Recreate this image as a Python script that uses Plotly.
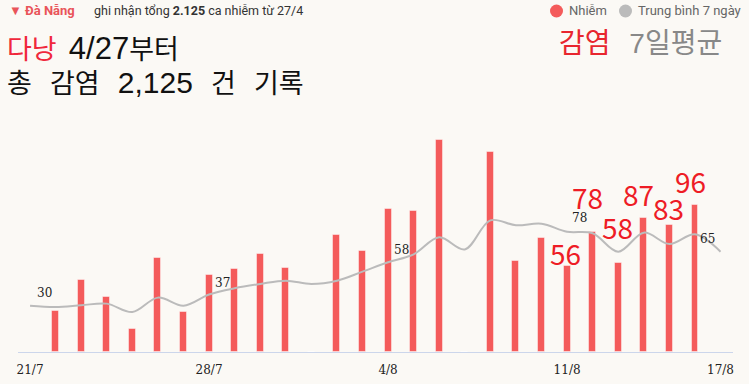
import pandas as pd
import plotly.graph_objects as go

# ---------------- data ----------------
bar_dates = pd.date_range("2021-07-22", "2021-08-16", freq="D")
cases = [27, 47, 36, 15, 61, 26, 50, 54, 64, 55, 0, 76, 66, 93, 92, 138, 0,
         130, 59, 74, 56, 78, 58, 87, 83, 96]

avg_dates = pd.date_range("2021-07-21", "2021-08-17", freq="D")
avg7 = [30.1, 29.3, 30.4, 31.5, 26.0, 35.4, 30.1, 37.4, 41.5, 44.3, 46.4, 44.3,
        46.4, 52.3, 58.4, 63.6, 74.7, 66.8, 85.7, 82.5, 83.5, 78.3, 77.3, 65.3,
        77.7, 70.3, 76.6, 65.3]

tick_dates = ["2021-07-21", "2021-07-28", "2021-08-04", "2021-08-11", "2021-08-17"]
tick_labels = ["21/7", "28/7", "4/8", "11/8", "17/8"]

avg_label_dates = ["2021-07-21", "2021-07-28", "2021-08-04", "2021-08-11", "2021-08-17"]
big_label_dates = ["2021-08-11", "2021-08-12", "2021-08-13", "2021-08-14",
                   "2021-08-15", "2021-08-16"]

# ---------------- styling ----------------
W, H = 749, 384
ML, MR, MT, MB = 18, 16, 100, 32
PW, PH = W - ML - MR, H - MT - MB
BG = "#fbf9f5"
RED = "#f45b5b"
GRAY = "#bbbbbb"
SP3 = "&nbsp;" * 3
SP2 = "&nbsp;" * 2

def px(x):
    return (x - ML) / PW

def py(y):
    return (H - MB - y) / PH

def num(s, size):
    return ("<span style='font-family:Liberation Sans;font-size:%dpx'>%s</span>"
            % (size, s))

fig = go.Figure()

fig.add_trace(go.Bar(
    x=bar_dates, y=cases, width=0.27 * 86400000,
    marker=dict(color=RED, line=dict(color="rgba(255,255,255,0.45)", width=1)),
    showlegend=False, hoverinfo="skip"))

fig.add_trace(go.Scatter(
    x=avg_dates, y=avg7, mode="lines",
    line=dict(color=GRAY, width=2, shape="spline", smoothing=1.0),
    showlegend=False, hoverinfo="skip"))

annotations = []

# small labels on the average line
avg_lookup = dict(zip(avg_dates.strftime("%Y-%m-%d"), avg7))
avg_shifts = [(14, 13), (13, 12), (13, 12), (12, 14), (-13, 13)]
for d, (dx, dy) in zip(avg_label_dates, avg_shifts):
    v = avg_lookup[d]
    annotations.append(dict(
        x=d, y=v, xref="x", yref="y", text=str(int(v)), showarrow=False,
        xshift=dx, yshift=dy, font=dict(family="DejaVu Serif", size=12, color="#222222")))

# big red labels over the recent bars
bar_lookup = dict(zip(bar_dates.strftime("%Y-%m-%d"), cases))
big_shifts = [(-2, 13), (-5, 35), (-1, 36), (-5, 24), (-1, 17), (-4, 24)]
for d, (dx, dy) in zip(big_label_dates, big_shifts):
    v = bar_lookup[d]
    annotations.append(dict(
        x=d, y=v, xref="x", yref="y", text=str(v), showarrow=False,
        xshift=dx, yshift=dy, yanchor="middle",
        font=dict(family="Noto Sans CJK KR", size=28, color="#ee1c25")))

# header
annotations.append(dict(
    x=px(7), y=py(11), xref="paper", yref="paper", xanchor="left", yanchor="middle",
    text="<b>▼ Đà Nẵng</b>", showarrow=False,
    font=dict(family="Roboto", size=13, color="#e9545a")))
annotations.append(dict(
    x=px(92), y=py(11), xref="paper", yref="paper", xanchor="left", yanchor="middle",
    text="ghi nhận tổng <b>2.125</b> ca nhiễm từ 27/4", showarrow=False,
    font=dict(family="Roboto", size=12.5, color="#333333")))

# Korean title
annotations.append(dict(
    x=px(5), y=py(47), xref="paper", yref="paper", xanchor="left", yanchor="middle",
    text="<span style='color:#f0283c'>다낭</span>" + SP2 + num("4/27", 31) + "부터",
    showarrow=False,
    font=dict(family="Noto Sans CJK KR", size=27, color="#111111")))
annotations.append(dict(
    x=px(5), y=py(81), xref="paper", yref="paper", xanchor="left", yanchor="middle",
    text=SP3.join(["총", "감염", num("2,125", 30), "건", "기록"]), showarrow=False,
    font=dict(family="Noto Sans CJK KR", size=27, color="#111111")))
annotations.append(dict(
    x=px(724), y=py(41), xref="paper", yref="paper", xanchor="right", yanchor="middle",
    text="<span style='color:#e8262e'>감염</span>" + SP3 + num("7", 28) + "일평균",
    showarrow=False,
    font=dict(family="Noto Sans CJK KR", size=28, color="#888888")))

# legend texts
annotations.append(dict(
    x=px(567), y=py(11), xref="paper", yref="paper", xanchor="left", yanchor="middle",
    text="Nhiễm", showarrow=False, font=dict(family="Roboto", size=13, color="#666666")))
annotations.append(dict(
    x=px(636), y=py(11), xref="paper", yref="paper", xanchor="left", yanchor="middle",
    text="Trung bình 7 ngày", showarrow=False,
    font=dict(family="Roboto", size=13, color="#666666")))

shapes = []
for cx, col in [(556.5, RED), (625.5, GRAY)]:
    shapes.append(dict(
        type="circle", xref="paper", yref="paper", xsizemode="pixel", ysizemode="pixel",
        xanchor=px(cx), yanchor=py(11), x0=-6.5, x1=6.5, y0=-6.5, y1=6.5,
        fillcolor=col, line=dict(width=0)))

x0 = pd.Timestamp(avg_dates[0]) - pd.Timedelta(hours=11.3)
x1 = pd.Timestamp(avg_dates[-1]) + pd.Timedelta(hours=11.7)

fig.update_layout(
    width=W, height=H,
    margin=dict(l=ML, r=MR, t=MT, b=MB, pad=0, autoexpand=False),
    paper_bgcolor=BG, plot_bgcolor=BG,
    annotations=annotations, shapes=shapes,
    bargap=0,
    xaxis=dict(type="date", range=[x0, x1], showgrid=False, zeroline=False,
               showline=True, linecolor="#ccd6eb", linewidth=1, automargin=False,
               tickmode="array", tickvals=tick_dates, ticktext=tick_labels,
               ticks="", ticklabelstandoff=7,
               tickfont=dict(family="DejaVu Serif", size=12, color="#222222")),
    yaxis=dict(range=[0, PH / 1.536], visible=False, showgrid=False, zeroline=False,
               automargin=False),
    showlegend=False,
)

fig.write_html("out.html",
               config={"displayModeBar": False},
               post_script="document.body.style.margin='0px';"
                           "document.body.style.background='" + BG + "';")
